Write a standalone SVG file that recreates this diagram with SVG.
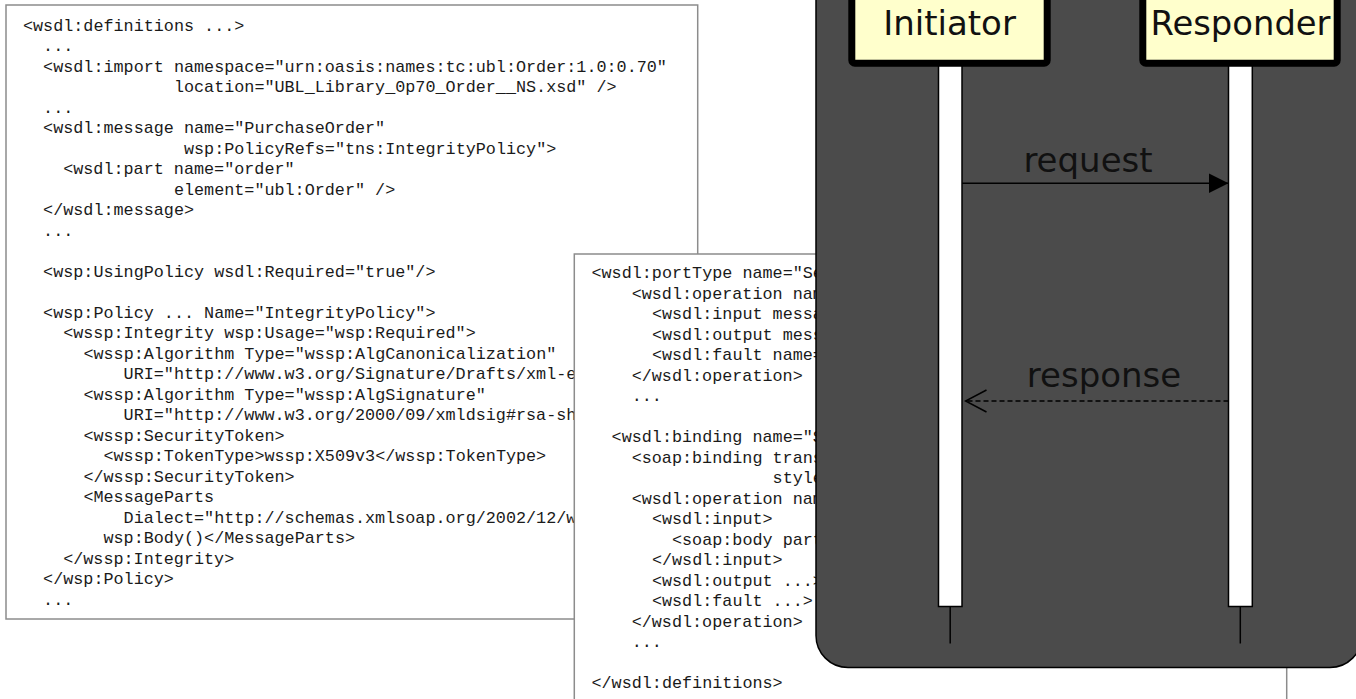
<svg xmlns="http://www.w3.org/2000/svg" width="1356" height="699" viewBox="0 0 1356 699">
<style>
.box{fill:#fff;stroke:#8c8c8c;stroke-width:1.5}
.code{font-family:"Liberation Mono","DejaVu Sans Mono",monospace;font-size:16.77px;fill:#1a1a1a}
.lbl{font-family:"DejaVu Sans",sans-serif;font-size:34px;fill:#111;text-anchor:middle}
.head{fill:#ffffcc;stroke:#000;stroke-width:7}
.bar{fill:#fff;stroke:#000;stroke-width:1.5}
.life{stroke:#000;stroke-width:1.5;fill:none}
.msg{stroke:#000;stroke-width:1.5;fill:none}
</style>
<defs>
<marker id="filled" markerWidth="22" markerHeight="22" refX="20" refY="10" orient="auto" markerUnits="userSpaceOnUse">
<path d="M0,0 L20,10 L0,20 Z" fill="#000"/>
</marker>
<marker id="open" markerWidth="24" markerHeight="26" refX="22" refY="12" orient="auto" markerUnits="userSpaceOnUse">
<path d="M1,1 L22,12 L1,23" fill="none" stroke="#000" stroke-width="1.5"/>
</marker>
</defs>

<g id="policy-code">
<rect class="box" x="6" y="5" width="691.7" height="614"/>
<text class="code" x="23" y="30.5">&lt;wsdl:definitions ...&gt;</text>
<text class="code" x="43.1" y="51">...</text>
<text class="code" x="43.1" y="71.5">&lt;wsdl:import namespace="urn:oasis:names:tc:ubl:Order:1.0:0.70"</text>
<text class="code" x="173.9" y="92">location="UBL_Library_0p70_Order__NS.xsd" /&gt;</text>
<text class="code" x="43.1" y="112.5">...</text>
<text class="code" x="43.1" y="133">&lt;wsdl:message name="PurchaseOrder"</text>
<text class="code" x="184" y="153.5">wsp:PolicyRefs="tns:IntegrityPolicy"&gt;</text>
<text class="code" x="63.2" y="174">&lt;wsdl:part name="order"</text>
<text class="code" x="173.9" y="194.5">element="ubl:Order" /&gt;</text>
<text class="code" x="43.1" y="215">&lt;/wsdl:message&gt;</text>
<text class="code" x="43.1" y="235.5">...</text>
<text class="code" x="43.1" y="276.5">&lt;wsp:UsingPolicy wsdl:Required="true"/&gt;</text>
<text class="code" x="43.1" y="317.5">&lt;wsp:Policy ... Name="IntegrityPolicy"&gt;</text>
<text class="code" x="63.2" y="338">&lt;wssp:Integrity wsp:Usage="wsp:Required"&gt;</text>
<text class="code" x="83.4" y="358.5">&lt;wssp:Algorithm Type="wssp:AlgCanonicalization"</text>
<text class="code" x="123.6" y="379">URI="http://www.w3.org/Signature/Drafts/xml-e</text>
<text class="code" x="83.4" y="399.5">&lt;wssp:Algorithm Type="wssp:AlgSignature"</text>
<text class="code" x="123.6" y="420">URI="http://www.w3.org/2000/09/xmldsig#rsa-sh</text>
<text class="code" x="83.4" y="440.5">&lt;wssp:SecurityToken&gt;</text>
<text class="code" x="103.5" y="461">&lt;wssp:TokenType&gt;wssp:X509v3&lt;/wssp:TokenType&gt;</text>
<text class="code" x="83.4" y="481.5">&lt;/wssp:SecurityToken&gt;</text>
<text class="code" x="83.4" y="502">&lt;MessageParts</text>
<text class="code" x="123.6" y="522.5">Dialect="http://schemas.xmlsoap.org/2002/12/w</text>
<text class="code" x="103.5" y="543">wsp:Body()&lt;/MessageParts&gt;</text>
<text class="code" x="63.2" y="563.5">&lt;/wssp:Integrity&gt;</text>
<text class="code" x="43.1" y="584">&lt;/wsp:Policy&gt;</text>
<text class="code" x="43.1" y="604.5">...</text>
</g>

<g id="binding-code">
<rect class="box" x="574.3" y="254" width="712.4" height="460"/>
<text class="code" x="591.5" y="278.1">&lt;wsdl:portType name="Se</text>
<text class="code" x="631.7" y="298.6">&lt;wsdl:operation nam</text>
<text class="code" x="651.9" y="319.1">&lt;wsdl:input messa</text>
<text class="code" x="651.9" y="339.6">&lt;wsdl:output mess</text>
<text class="code" x="651.9" y="360.1">&lt;wsdl:fault name=</text>
<text class="code" x="631.7" y="380.6">&lt;/wsdl:operation&gt;</text>
<text class="code" x="631.7" y="401.1">...</text>
<text class="code" x="611.6" y="442.1">&lt;wsdl:binding name="S</text>
<text class="code" x="631.7" y="462.6">&lt;soap:binding trans</text>
<text class="code" x="772.6" y="483.1">style</text>
<text class="code" x="631.7" y="503.6">&lt;wsdl:operation nam</text>
<text class="code" x="651.9" y="524.1">&lt;wsdl:input&gt;</text>
<text class="code" x="672" y="544.6">&lt;soap:body part</text>
<text class="code" x="651.9" y="565.1">&lt;/wsdl:input&gt;</text>
<text class="code" x="651.9" y="585.6">&lt;wsdl:output ...&gt;</text>
<text class="code" x="651.9" y="606.1">&lt;wsdl:fault ...&gt;</text>
<text class="code" x="631.7" y="626.6">&lt;/wsdl:operation&gt;</text>
<text class="code" x="631.7" y="647.1">...</text>
<text class="code" x="591.5" y="688.1">&lt;/wsdl:definitions&gt;</text>
</g>

<g id="sequence-frame">
<rect x="816" y="-60" width="546" height="727.5" rx="32" ry="32" fill="#4b4b4b" stroke="#000" stroke-width="1.5"/>
</g>

<g id="initiator">
<rect class="bar" x="938.5" y="60" width="23.5" height="546.5"/>
<line class="life" x1="950.2" y1="606.5" x2="950.2" y2="643.5"/>
<rect class="head" x="851.8" y="-30" width="195.4" height="93.2" rx="3"/>
<text class="lbl" x="949.5" y="34.5">Initiator</text>
</g>

<g id="responder">
<rect class="bar" x="1228.5" y="60" width="23.8" height="546.5"/>
<line class="life" x1="1240.3" y1="606.5" x2="1240.3" y2="643.5"/>
<rect class="head" x="1142.8" y="-30" width="194.4" height="93.2" rx="3"/>
<text class="lbl" x="1240.5" y="34.5" textLength="180" lengthAdjust="spacingAndGlyphs">Responder</text>
</g>

<g id="connectors">
<line class="msg" x1="962" y1="183.3" x2="1228.5" y2="183.3" marker-end="url(#filled)"/>
<text class="lbl" x="1088" y="171.7">request</text>
<line class="msg" x1="1228.5" y1="401" x2="965.5" y2="401" stroke-dasharray="5,3" marker-end="url(#open)"/>
<text class="lbl" x="1104" y="386.7">response</text>
</g>
</svg>
